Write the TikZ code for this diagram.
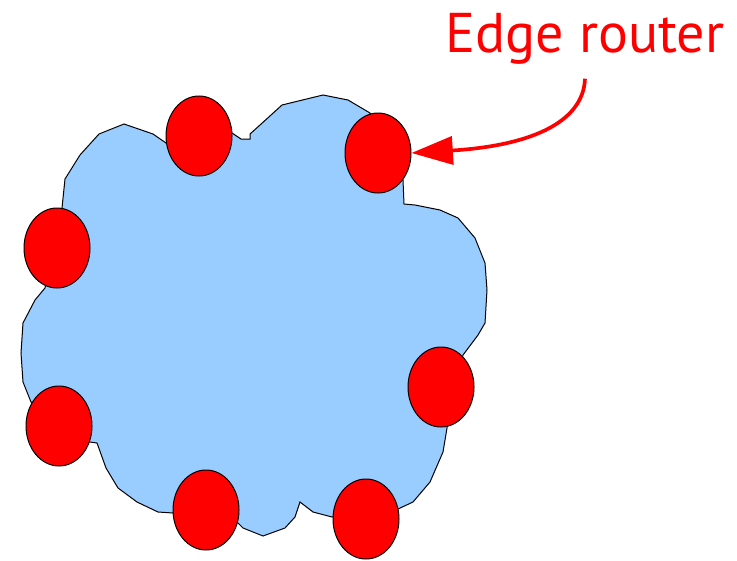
\documentclass[tikz,border=0pt]{standalone}
\usepackage{fontspec}
\setmainfont{PT Sans}
\usetikzlibrary{shapes.geometric,arrows.meta}
\definecolor{cloudblue}{RGB}{153,204,255}
\definecolor{routerred}{RGB}{255,0,0}
\tikzset{every picture/.style={line width=0.75pt}}
\tikzset{
    router/.style={ellipse, draw=black, fill=routerred, line width=0.75pt, minimum width=49.5pt, minimum height=60pt, inner sep=0pt},
    pointer/.style={draw=routerred, line width=2.75pt, -{Triangle[length=31pt, width=21pt]}}
}
\begin{document}
\begin{tikzpicture}[
            x=0.75pt,
            y=0.75pt,
            yscale=-1,
            xscale=1,
            line width=0.75pt
        ]
            \useasboundingbox (0,0) rectangle (737,560);
            % network cloud
            \draw  [fill=cloudblue] (124,124) -- (153,134) -- (166,143) -- (232,133) -- (241,139) -- (250,139) -- (250,134) -- (260,125) -- (282,105) -- (323,95) -- (348,100) -- (370,113) -- (403,180) -- (404,204) -- (415,205) -- (440,210) -- (458,218) -- (475,238) -- (485,263) -- (487,290) -- (485,323) -- (478,335) -- (463,355) -- (447,428) -- (443,452) -- (430,482) -- (413,502) -- (398,509) -- (332,517) -- (313,512) -- (300,502) -- (295,517) -- (285,528) -- (263,536) -- (243,528) -- (238,523) -- (173,513) -- (158,512) -- (137,502) -- (118,488) -- (106,468) -- (97,443) -- (90,442) -- (31,402) -- (23,382) -- (21,353) -- (23,323) -- (35,300) -- (45,288) -- (62,208) -- (65,179) -- (80,155) -- (99,134) -- cycle ;
            % routers on the edge
            \node [router] (rtop) at (199,136) {};
            \node [router] (redge) at (378,153) {};
            \node [router] (rleft) at (57,248) {};
            \node [router] (rright) at (441,387) {};
            \node [router] (rlowleft) at (59,426) {};
            \node [router] (rbotleft) at (206,510) {};
            \node [router] (rbotright) at (366,519) {};
            % label
            \node [text=routerred, font=\fontsize{42}{50}\selectfont, inner sep=0pt, anchor=base] (label) at (585,53) {Edge router};
            \draw [pointer] ([yshift=10pt]label.south) .. controls (583,125) and (525,146) .. (redge.east) ;
        \end{tikzpicture}
\end{document}
